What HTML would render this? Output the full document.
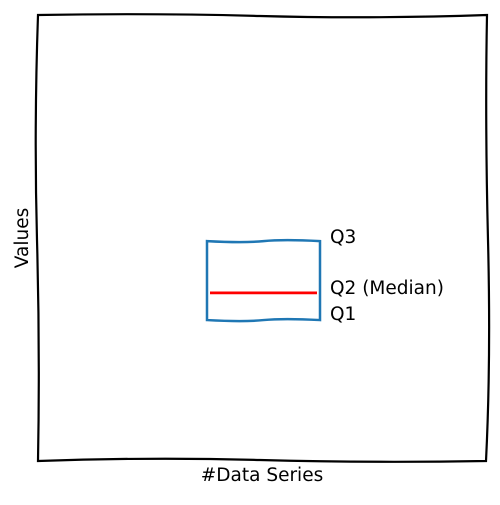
<!DOCTYPE html>
<html><head><meta charset="utf-8"><style>
body{margin:0;background:#fff}
svg text{font-family:"DejaVu Sans","Liberation Sans",sans-serif;font-size:18.5px;fill:#000}
</style></head><body>
<svg width="500" height="500" viewBox="0 0 500 500">
<path d="M38,15 Q150,13 260,16 T487,15 Q485,120 488,240 T486,461 Q370,463 260,460 T38,461 Q40,350 37,240 T38,15 Z" fill="none" stroke="#000" stroke-width="2.2"/>
<g id="marks"></g>
<text transform="translate(28,238) rotate(-90)" text-anchor="middle">Values</text>
<text x="262" y="481" text-anchor="middle">#Data Series</text>
</svg>
<script>
const categories = ["Series 1"];
const q1Values = [3.16];
const medianValues = [3.77];
const q3Values = [4.93];
const labels = ["Q1", "Q2 (Median)", "Q3"];

const yMin = 0, yMax = 10, pyTop = 15, pyBot = 461;
const y = v => pyBot - (v - yMin) / (yMax - yMin) * (pyBot - pyTop);
const x = i => 263.5 + i * 100;
const half = 56.5;
const g = document.getElementById('marks');
const NS = 'http://www.w3.org/2000/svg';
function mk(tag, attrs){const e=document.createElementNS(NS,tag);for(const k in attrs)e.setAttribute(k,attrs[k]);g.appendChild(e);return e;}
categories.forEach((c,i)=>{
  const cx=x(i), t=y(q3Values[i]), b=y(q1Values[i]), m=y(medianValues[i]);
  const box=mk('path',{d:`M${cx-half},${t} Q${cx-20},${t+2} ${cx},${t} T${cx+half},${t} L${cx+half},${b} Q${cx+20},${b-2} ${cx},${b} T${cx-half},${b} Z`,fill:'none',stroke:'#1f77b4','stroke-width':2.5});
  
  
  const med=mk('line',{x1:cx-half+3,x2:cx+half-3,y1:m,y2:m,stroke:'red','stroke-width':2.8});
  
  
  const lx=cx+half+10;
  const vals=[q1Values[i],medianValues[i],q3Values[i]];
  const offs=[0,1,2];
  labels.forEach((l,j)=>{
    const tx=mk('text',{x:lx,y:y(vals[j])+offs[j]});
    tx.textContent=l;
    
    
  });
});
</script>
</body></html>
